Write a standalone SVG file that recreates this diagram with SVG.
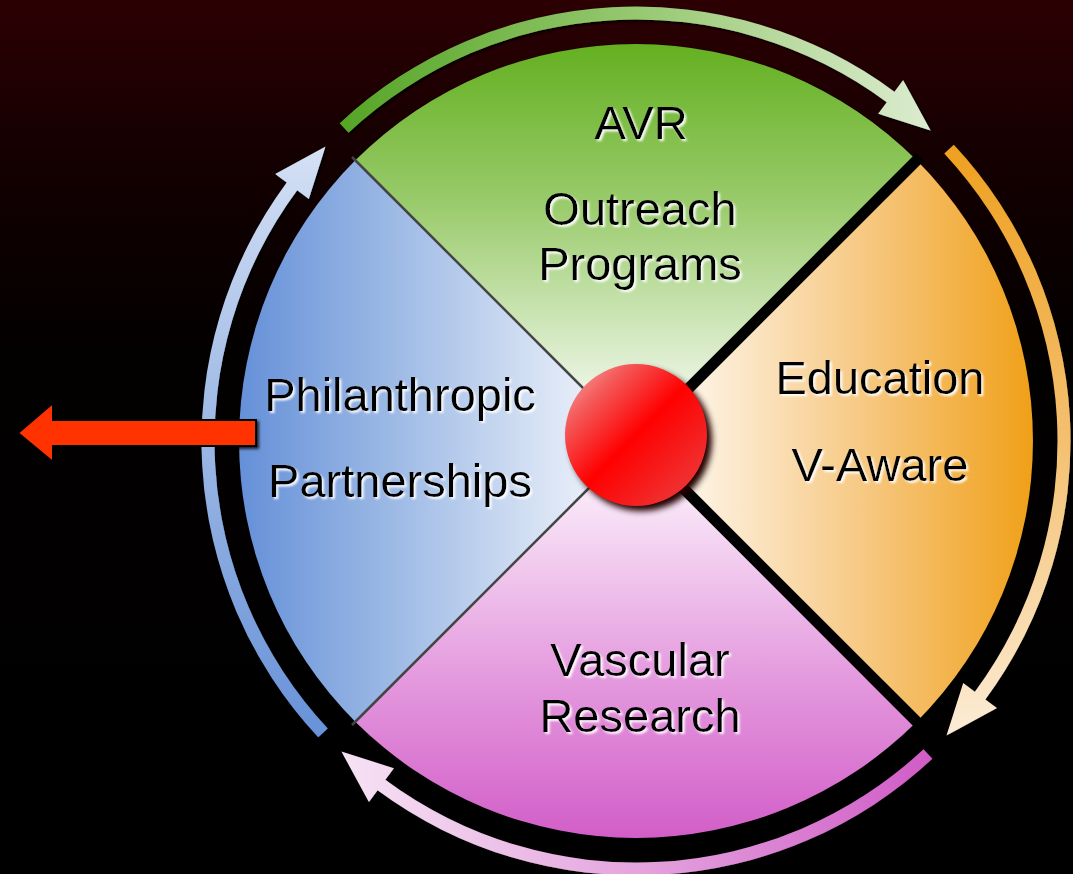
<svg xmlns="http://www.w3.org/2000/svg" width="1073" height="874" viewBox="0 0 1073 874">
  <defs>
    <linearGradient id="bg" x1="0" y1="0" x2="0" y2="874" gradientUnits="userSpaceOnUse">
      <stop offset="0" stop-color="#2c0003"/>
      <stop offset="0.18" stop-color="#140001"/>
      <stop offset="0.4" stop-color="#030000"/>
      <stop offset="1" stop-color="#000000"/>
    </linearGradient>
    <linearGradient id="gGreen" x1="0" y1="44" x2="0" y2="400" gradientUnits="userSpaceOnUse">
      <stop offset="0" stop-color="#64b021"/>
      <stop offset="0.45" stop-color="#9acb6c"/>
      <stop offset="1" stop-color="#f0f7ea"/>
    </linearGradient>
    <linearGradient id="gOrange" x1="1033" y1="0" x2="680" y2="0" gradientUnits="userSpaceOnUse">
      <stop offset="0" stop-color="#f0a018"/>
      <stop offset="0.45" stop-color="#f6c67c"/>
      <stop offset="1" stop-color="#fef6ec"/>
    </linearGradient>
    <linearGradient id="gPink" x1="0" y1="838" x2="0" y2="480" gradientUnits="userSpaceOnUse">
      <stop offset="0" stop-color="#d25ec8"/>
      <stop offset="0.45" stop-color="#e49ade"/>
      <stop offset="1" stop-color="#fbeefa"/>
    </linearGradient>
    <linearGradient id="gBlue" x1="239" y1="0" x2="600" y2="0" gradientUnits="userSpaceOnUse">
      <stop offset="0" stop-color="#6590d8"/>
      <stop offset="0.45" stop-color="#a0bce6"/>
      <stop offset="1" stop-color="#eef2fa"/>
    </linearGradient>
    <linearGradient id="aGreen" x1="340" y1="0" x2="930" y2="0" gradientUnits="userSpaceOnUse">
      <stop offset="0" stop-color="#55a526"/>
      <stop offset="0.5" stop-color="#96c870"/>
      <stop offset="1" stop-color="#dcecd0"/>
    </linearGradient>
    <linearGradient id="aOrange" x1="0" y1="145" x2="0" y2="735" gradientUnits="userSpaceOnUse">
      <stop offset="0" stop-color="#eea020"/>
      <stop offset="0.5" stop-color="#f4c070"/>
      <stop offset="1" stop-color="#fcecd6"/>
    </linearGradient>
    <linearGradient id="aPink" x1="932" y1="0" x2="344" y2="0" gradientUnits="userSpaceOnUse">
      <stop offset="0" stop-color="#d05cc6"/>
      <stop offset="0.5" stop-color="#e4a4de"/>
      <stop offset="1" stop-color="#f6e2f4"/>
    </linearGradient>
    <linearGradient id="aBlue" x1="0" y1="737" x2="0" y2="149" gradientUnits="userSpaceOnUse">
      <stop offset="0" stop-color="#6892d8"/>
      <stop offset="0.5" stop-color="#9ab6e4"/>
      <stop offset="1" stop-color="#d4e0f4"/>
    </linearGradient>
    <linearGradient id="sphere" x1="0" y1="0" x2="1" y2="1">
      <stop offset="0" stop-color="#f8b4b4"/>
      <stop offset="0.22" stop-color="#f45a5a"/>
      <stop offset="0.5" stop-color="#ff0000"/>
      <stop offset="0.8" stop-color="#f22a2a"/>
      <stop offset="1" stop-color="#e63c3c"/>
    </linearGradient>
    <filter id="glow" x="-10%" y="-20%" width="120%" height="150%">
      <feDropShadow dx="2" dy="2" stdDeviation="1" flood-color="#ffffff" flood-opacity="0.95"/>
    </filter>
    <filter id="soft" x="-20%" y="-20%" width="140%" height="140%">
      <feGaussianBlur stdDeviation="3"/>
    </filter>
    <filter id="arcShadow" x="-10%" y="-10%" width="120%" height="120%">
      <feDropShadow dx="2" dy="2" stdDeviation="1.5" flood-color="#000000" flood-opacity="0.8"/>
    </filter>
  </defs>
  <style>
    text { font-family: "Liberation Sans", Arial, sans-serif; font-size: 47px; fill: #000000; text-anchor: middle; filter: url(#glow); }
    .sector { stroke: none; }
  </style>

  <rect x="0" y="0" width="1073" height="874" fill="url(#bg)"/>

  <g id="node-avr">
    <path class="sector" d="M636,441 L355.3,160.3 A397,397 0 0 1 916.7,160.3 Z" fill="url(#gGreen)"/>
    <text x="641" y="139">AVR</text>
    <text x="640" y="225">Outreach</text>
    <text x="640" y="280">Programs</text>
  </g>
  <g id="node-education">
    <path class="sector" d="M636,441 L916.7,160.3 A397,397 0 0 1 916.7,721.7 Z" fill="url(#gOrange)"/>
    <text x="880" y="394">Education</text>
    <text x="880" y="481">V-Aware</text>
  </g>
  <g id="node-research">
    <path class="sector" d="M636,441 L916.7,721.7 A397,397 0 0 1 355.3,721.7 Z" fill="url(#gPink)"/>
    <text x="640" y="676">Vascular</text>
    <text x="640" y="732">Research</text>
  </g>
  <g id="node-philanthropic">
    <path class="sector" d="M636,441 L355.3,721.7 A397,397 0 0 1 355.3,160.3 Z" fill="url(#gBlue)"/>
    <text x="400" y="411">Philanthropic</text>
    <text x="400" y="497">Partnerships</text>
  </g>

  <g id="dividers">
    <line x1="636" y1="441" x2="920" y2="157" stroke="#000" stroke-width="11"/>
    <line x1="636" y1="441" x2="920" y2="725" stroke="#000" stroke-width="11"/>
    <line x1="636" y1="441" x2="352" y2="157" stroke="#444" stroke-width="2.5"/>
    <line x1="636" y1="441" x2="352" y2="725" stroke="#444" stroke-width="2.5"/>
  </g>

  <g id="node-center">
    <circle cx="641" cy="440" r="71" fill="#200000" filter="url(#soft)"/>
    <circle cx="636" cy="435" r="71" fill="url(#sphere)"/>
  </g>

  <g id="connectors" filter="url(#arcShadow)">
    <path d="M339.7,123.2 A434.5,434.5 0 0 1 894.4,91.7 L903.1,80.1 L930.6,130.5 L878.1,113.8 L886.7,102.2 A421.5,421.5 0 0 0 348.5,132.7 Z" fill="url(#aGreen)"/>
    <path d="M953.8,144.7 A434.5,434.5 0 0 1 985.3,699.4 L996.9,708.1 L946.5,735.6 L963.2,683.1 L974.8,691.7 A421.5,421.5 0 0 0 944.3,153.5 Z" fill="url(#aOrange)"/>
    <path d="M932.3,758.8 A434.5,434.5 0 0 1 377.6,790.3 L368.9,801.9 L341.4,751.5 L393.9,768.2 L385.3,779.8 A421.5,421.5 0 0 0 923.5,749.3 Z" fill="url(#aPink)"/>
    <path d="M318.2,737.3 A434.5,434.5 0 0 1 286.7,182.6 L275.1,173.9 L325.5,146.4 L308.8,198.9 L297.2,190.3 A421.5,421.5 0 0 0 327.7,728.5 Z" fill="url(#aBlue)"/>
    <polygon points="18,433 53,403 53,420 256,420 256,446 53,446 53,462" fill="#ff3300" stroke="#000" stroke-width="2"/>
  </g>
</svg>
